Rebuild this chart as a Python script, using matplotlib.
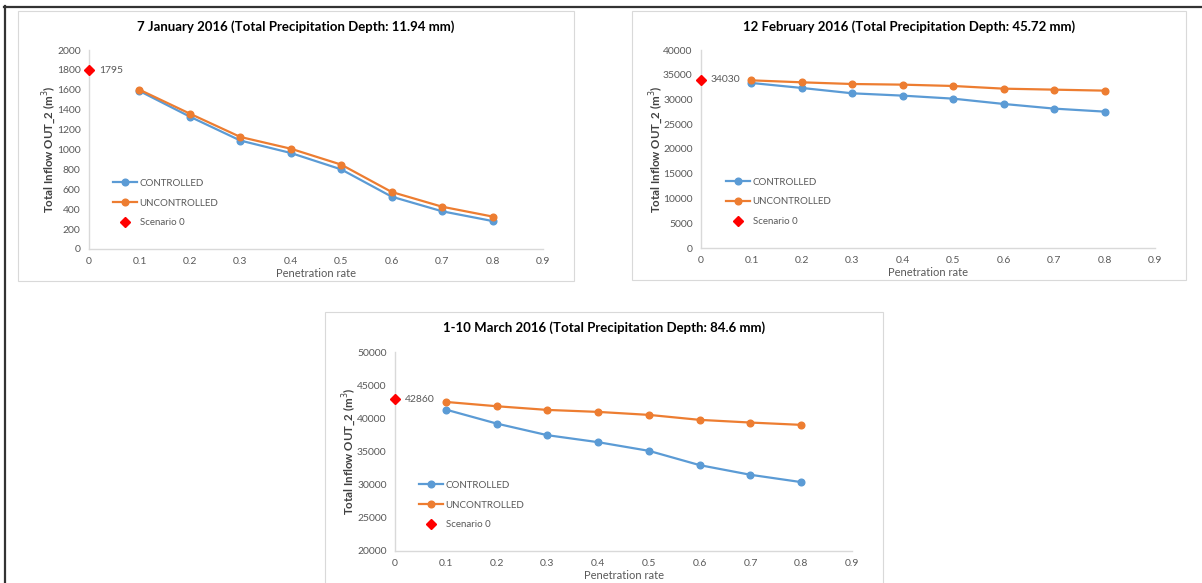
import matplotlib.pyplot as plt
from matplotlib.lines import Line2D
from matplotlib.patches import Rectangle

plt.rcParams["font.family"] = ["Lato", "DejaVu Sans"]

W, H = 1202, 583

# penetration rates shared by all three events
penetration = [0.1, 0.2, 0.3, 0.4, 0.5, 0.6, 0.7, 0.8]
x_ticks = [0, 0.1, 0.2, 0.3, 0.4, 0.5, 0.6, 0.7, 0.8, 0.9]
x_tick_labels = ["0", "0.1", "0.2", "0.3", "0.4", "0.5", "0.6", "0.7", "0.8", "0.9"]

# 7 January 2016
jan_title = "7 January 2016 (Total Precipitation Depth: 11.94 mm)"
jan_controlled = [1588, 1330, 1090, 965, 800, 526, 379, 281]
jan_uncontrolled = [1601, 1360, 1126, 1008, 848, 573, 425, 326]
jan_scenario0 = 1795
jan_yticks = list(range(0, 2001, 200))

# 12 February 2016
feb_title = "12 February 2016 (Total Precipitation Depth: 45.72 mm)"
feb_controlled = [33340, 32330, 31250, 30780, 30170, 29100, 28160, 27550]
feb_uncontrolled = [33870, 33470, 33130, 33000, 32730, 32190, 31990, 31790]
feb_scenario0 = 34030
feb_yticks = list(range(0, 40001, 5000))

# 1-10 March 2016
mar_title = "1-10 March 2016 (Total Precipitation Depth: 84.6 mm)"
mar_controlled = [41320, 39215, 37460, 36405, 35100, 32945, 31490, 30385]
mar_uncontrolled = [42475, 41825, 41270, 40970, 40520, 39770, 39365, 39015]
mar_scenario0 = 42860
mar_yticks = list(range(20000, 50001, 5000))

BLUE = "#5B9BD5"
ORANGE = "#ED7D31"
GRID = "#D9D9D9"
TXT = "#595959"


def fx(px):
    return px / W


def fy(py):
    return 1 - py / H


def draw_panel(fig, box, ax_px, title, ctrl, unctrl, s0, yticks, legend_px, ylab_off):
    # chart-area frame
    bx0, by0, bx1, by1 = box
    fig.patches.append(Rectangle((fx(bx0), fy(by1)), fx(bx1 - bx0), (by1 - by0) / H,
                                 transform=fig.transFigure, fill=False,
                                 edgecolor=GRID, linewidth=0.8))
    fig.text(fx((bx0 + bx1) / 2), fy(by0 + 16), title, ha="center", va="center",
             fontsize=9.5, fontweight="bold", color="black")

    x0, y0, x1, y1 = ax_px
    ax = fig.add_axes([fx(x0), fy(y1), fx(x1 - x0), (y1 - y0) / H])
    ax.plot(penetration, ctrl, color=BLUE, lw=1.6, marker="o", ms=4.8, label="CONTROLLED")
    ax.plot(penetration, unctrl, color=ORANGE, lw=1.6, marker="o", ms=4.8, label="UNCONTROLLED")
    ax.plot([0], [s0], color="red", marker="D", ms=5.2, ls="none", clip_on=False,
            label="Scenario 0", zorder=5)
    ax.annotate(str(s0), (0, s0), xytext=(7, 0), textcoords="offset points",
                ha="left", va="center", fontsize=7.5, color=TXT)

    ax.set_xlim(0, 0.9)
    ax.set_ylim(yticks[0], yticks[-1])
    ax.set_xticks(x_ticks, x_tick_labels)
    ax.set_yticks(yticks)
    ax.tick_params(length=0, labelsize=7.5, labelcolor=TXT, pad=6)
    for side in ("top", "right"):
        ax.spines[side].set_visible(False)
    for side in ("left", "bottom"):
        ax.spines[side].set_color(GRID)
        ax.spines[side].set_linewidth(1.0)

    ax.set_xlabel("Penetration rate", fontsize=8, color=TXT, labelpad=1)
    ax.set_ylabel("Total Inflow OUT_2 (m$^3$)", fontsize=8.3, fontweight="bold", color="#404040")
    ax.yaxis.set_label_coords(-ylab_off / (x1 - x0), 0.5)

    lx, ly = legend_px
    leg = ax.legend(loc="center left", bbox_to_anchor=(fx(lx), fy(ly)),
                    bbox_transform=fig.transFigure, frameon=False, fontsize=7,
                    handlelength=2.5, handletextpad=0.25, labelspacing=1.1,
                    borderpad=0, borderaxespad=0, numpoints=1)
    for t in leg.get_texts():
        t.set_color(TXT)
    return ax


fig = plt.figure(figsize=(W / 100, H / 100), dpi=100)

# outer page border (top and left edges)
fig.lines.append(Line2D([fx(4), 1], [fy(6.5), fy(6.5)], transform=fig.transFigure,
                        color="#333333", lw=1.6))
fig.lines.append(Line2D([fx(4.5), fx(4.5)], [fy(6), 0], transform=fig.transFigure,
                        color="#333333", lw=1.6))

draw_panel(fig, (18, 11, 574, 281), (89, 50, 543, 249), jan_title,
           jan_controlled, jan_uncontrolled, jan_scenario0, jan_yticks, (113, 203), 31)
draw_panel(fig, (632, 11, 1186, 280), (701, 50, 1155, 248), feb_title,
           feb_controlled, feb_uncontrolled, feb_scenario0, feb_yticks, (726, 202), 36)
draw_panel(fig, (325, 312, 883, 600), (395, 352, 852, 551), mar_title,
           mar_controlled, mar_uncontrolled, mar_scenario0, mar_yticks, (419, 505), 37)

fig.savefig("out.png", dpi=100)
